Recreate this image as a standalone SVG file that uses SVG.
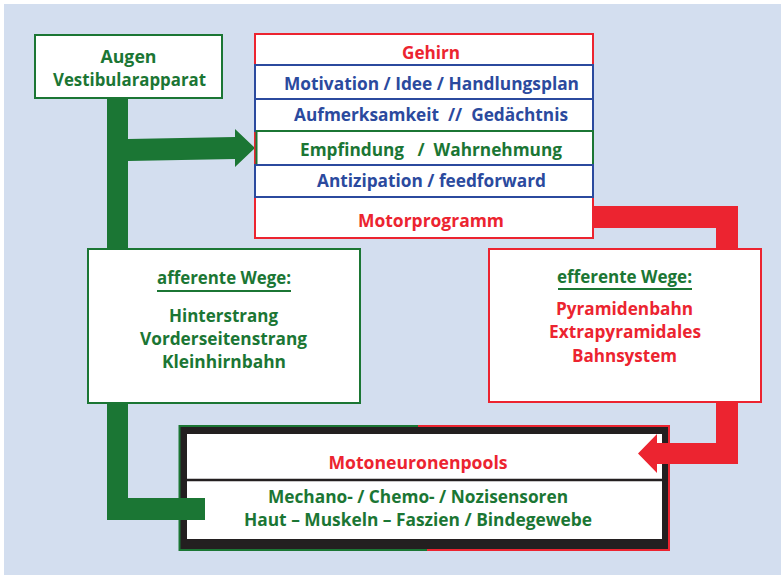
<svg xmlns="http://www.w3.org/2000/svg" width="781" height="575" viewBox="0 0 781 575">
<style>
.t{font-family:"Open Sans",Lato,"Liberation Sans",sans-serif;font-weight:bold;font-size:18px;text-anchor:middle}
.g{fill:#1B7634}.r{fill:#EC2430}.b{fill:#2B4A9E}
.box{fill:#fff;stroke-width:2}
.sg{stroke:#1B7634}.sr{stroke:#EC2430}.sb{stroke:#2B4A9E}
</style>
<rect x="4" y="4" width="777" height="571" fill="#D3DEEF"/>

<g id="motoneuronen">
<rect x="180" y="427" width="488" height="123" fill="#231F20"/>
<path d="M418,426 H179.5 V550 H427" fill="none" stroke="#1B7634" stroke-width="2"/>
<path d="M418,426 H669 V550 H427" fill="none" stroke="#EC2430" stroke-width="2"/>
<rect x="187" y="434" width="475" height="105" fill="#fff"/>
<line x1="187" y1="480" x2="662" y2="480" stroke="#231F20" stroke-width="2.5"/>
<text class="t r" x="418" y="469" textLength="179" lengthAdjust="spacingAndGlyphs">Motoneuronenpools</text>
<text class="t g" x="418" y="503" textLength="300" lengthAdjust="spacingAndGlyphs">Mechano- / Chemo- / Nozisensoren</text>
<text class="t g" x="418" y="526" textLength="348" lengthAdjust="spacingAndGlyphs">Haut – Muskeln – Faszien / Bindegewebe</text>
</g>

<g id="connectors">
<path d="M107,98 H128 V498 H205 V520 H107 Z" fill="#1B7634"/>
<path d="M128,139 L235,137 V129 L255,148 L235,167 V159 L128,161 Z" fill="#1B7634"/>
<path d="M593,206 H738 V464 H657 V473 L638,453.5 L657,434 V443 H716 V228 H593 Z" fill="#EC2430"/>
</g>

<g id="augen">
<rect class="box sg" x="35" y="35" width="187" height="63"/>
<text class="t g" x="128.5" y="63" textLength="56" lengthAdjust="spacingAndGlyphs">Augen</text>
<text class="t g" x="129.5" y="86" textLength="153" lengthAdjust="spacingAndGlyphs">Vestibularapparat</text>
</g>

<g id="gehirn">
<rect class="box sr" x="255" y="34" width="338" height="204"/>
<rect class="box sb" x="255" y="65" width="338" height="34"/>
<rect class="box sb" x="255" y="99" width="338" height="32"/>
<rect class="box sg" x="256.5" y="131" width="336.5" height="34"/>
<rect class="box sb" x="255" y="165" width="338" height="32"/>
<text class="t r" x="431" y="59" textLength="58" lengthAdjust="spacingAndGlyphs">Gehirn</text>
<text class="t b" x="431.5" y="90" textLength="295" lengthAdjust="spacingAndGlyphs">Motivation / Idee / Handlungsplan</text>
<text class="t b" x="431" y="121" textLength="274" lengthAdjust="spacingAndGlyphs" xml:space="preserve">Aufmerksamkeit  //  Gedächtnis</text>
<text class="t g" x="431" y="156" textLength="262" lengthAdjust="spacingAndGlyphs" xml:space="preserve">Empfindung   /  Wahrnehmung</text>
<text class="t b" x="431.5" y="187" textLength="229" lengthAdjust="spacingAndGlyphs">Antizipation / feedforward</text>
<text class="t r" x="431" y="227" textLength="146" lengthAdjust="spacingAndGlyphs">Motorprogramm</text>
</g>

<g id="afferente">
<rect class="box sg" x="88" y="249" width="272" height="154"/>
<text class="t g" x="224" y="284" textLength="134" lengthAdjust="spacingAndGlyphs">afferente Wege:</text>
<line x1="157" y1="291" x2="291" y2="291" stroke="#1B7634" stroke-width="2"/>
<text class="t g" x="223.5" y="322" textLength="109" lengthAdjust="spacingAndGlyphs">Hinterstrang</text>
<text class="t g" x="223.5" y="345" textLength="167" lengthAdjust="spacingAndGlyphs">Vorderseitenstrang</text>
<text class="t g" x="224" y="368" textLength="124" lengthAdjust="spacingAndGlyphs">Kleinhirnbahn</text>
</g>

<g id="efferente">
<rect class="box sr" x="489" y="249" width="272" height="153"/>
<text class="t g" x="624.5" y="283" textLength="135" lengthAdjust="spacingAndGlyphs">efferente Wege:</text>
<line x1="558" y1="289" x2="692" y2="289" stroke="#1B7634" stroke-width="2"/>
<text class="t r" x="624.5" y="315" textLength="137" lengthAdjust="spacingAndGlyphs">Pyramidenbahn</text>
<text class="t r" x="625" y="338" textLength="152" lengthAdjust="spacingAndGlyphs">Extrapyramidales</text>
<text class="t r" x="624.5" y="362" textLength="105" lengthAdjust="spacingAndGlyphs">Bahnsystem</text>
</g>
</svg>
